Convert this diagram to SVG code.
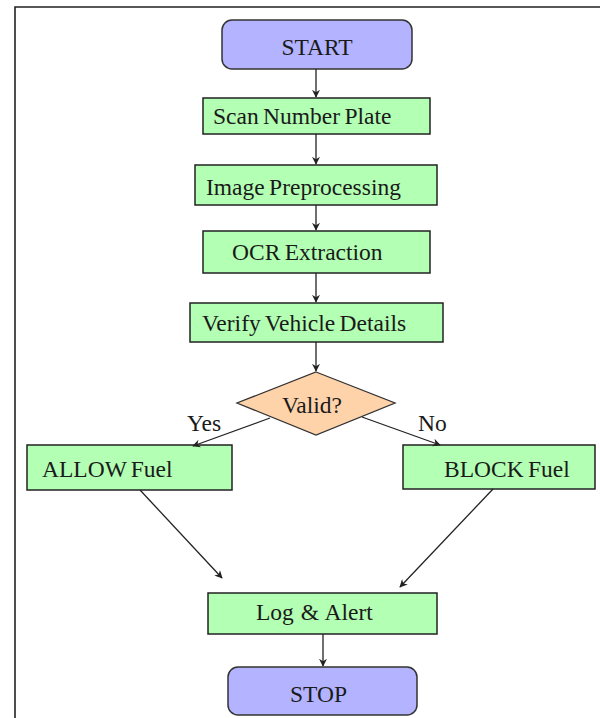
<svg xmlns="http://www.w3.org/2000/svg" width="600" height="718" viewBox="0 0 600 718">
<style>
text{font-family:"Liberation Serif","Times New Roman",serif;font-size:23.5px;fill:#1a1a1a;word-spacing:-1.5px}
.proc{fill:#b3ffb3;stroke:#222;stroke-width:1.5}
.term{fill:#b3b3ff;stroke:#333;stroke-width:1.5}
.dec{fill:#ffd3aa;stroke:#333;stroke-width:1.3}
.conn line{stroke:#222;stroke-width:1.3;marker-end:url(#ah)}
.frame{stroke:#222;stroke-width:1.6;fill:none}
</style>
<defs>
<marker id="ah" viewBox="0 0 10 10" refX="9" refY="5" markerWidth="8" markerHeight="8" markerUnits="userSpaceOnUse" orient="auto">
<path d="M0,0 L10,5 L0,10 L3,5 Z" fill="#222"/>
</marker>
</defs>
<rect width="600" height="718" fill="#fff"/>
<path class="frame" d="M15,718 V7 H600"/>
<g id="start"><rect class="term" x="222" y="20" width="190" height="49" rx="10"/><text x="317" y="55" text-anchor="middle">START</text></g>
<g id="scan"><rect class="proc" x="203" y="98" width="227" height="36"/><text x="213" y="124">Scan Number Plate</text></g>
<g id="preprocess"><rect class="proc" x="195" y="165" width="242" height="40"/><text x="206" y="195">Image Preprocessing</text></g>
<g id="ocr"><rect class="proc" x="203" y="231" width="227" height="42"/><text x="232" y="260">OCR Extraction</text></g>
<g id="verify"><rect class="proc" x="190" y="303" width="253" height="39"/><text x="202" y="331">Verify Vehicle Details</text></g>
<g id="valid"><polygon class="dec" points="316,372 395,403 316,435 237,403"/><text x="282" y="413">Valid?</text></g>
<g id="allow"><rect class="proc" x="27" y="445" width="205" height="45"/><text x="42" y="477">ALLOW Fuel</text></g>
<g id="block"><rect class="proc" x="403" y="445" width="192" height="44"/><text x="444" y="477">BLOCK Fuel</text></g>
<g id="log"><rect class="proc" x="208" y="593" width="229" height="41"/><text x="256" y="620" style="word-spacing:1px">Log &amp; Alert</text></g>
<g id="stop"><rect class="term" x="228" y="667" width="189" height="48" rx="10"/><text x="290" y="702">STOP</text></g>
<g id="connectors" class="conn">
<line x1="316" y1="69" x2="316" y2="97"/>
<line x1="316" y1="134" x2="316" y2="164"/>
<line x1="316" y1="205" x2="316" y2="230"/>
<line x1="316" y1="273" x2="316" y2="302"/>
<line x1="316" y1="342" x2="316" y2="371"/>
<line x1="270" y1="418" x2="193" y2="446"/>
<line x1="362" y1="417" x2="440" y2="445"/>
<line x1="140" y1="490" x2="222" y2="578"/>
<line x1="493" y1="489" x2="400" y2="587"/>
<line x1="323" y1="634" x2="323" y2="666"/>
<text x="187" y="431">Yes</text>
<text x="418" y="431">No</text>
</g>
</svg>
